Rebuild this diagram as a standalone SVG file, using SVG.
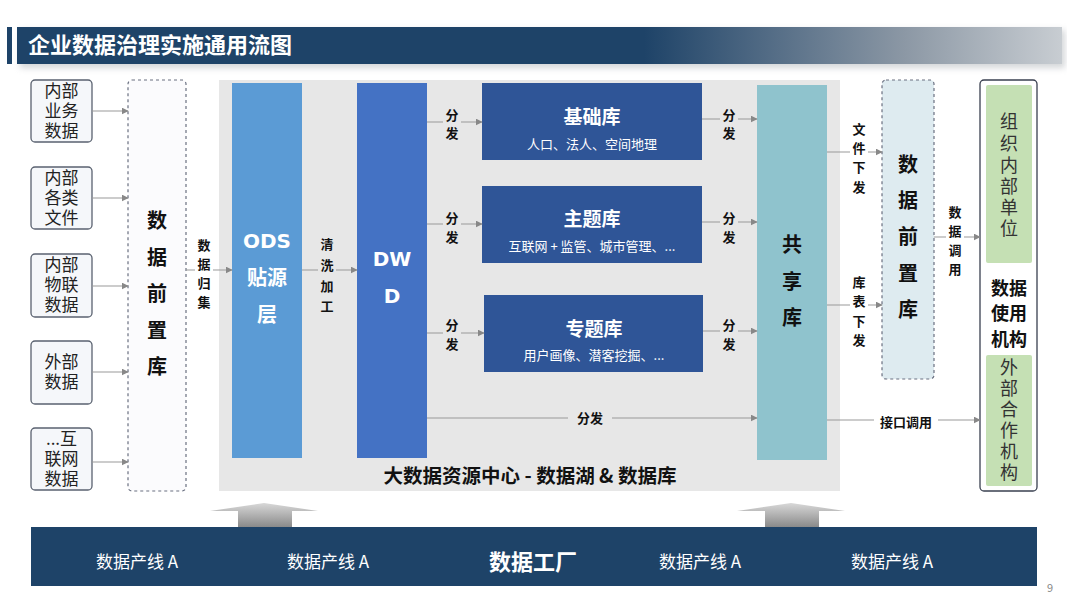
<svg xmlns="http://www.w3.org/2000/svg" width="1067" height="600" viewBox="0 0 1067 600">
<defs>
<style>
text{font-family:"Noto Sans CJK SC","Liberation Sans",sans-serif;}
.src{fill:#f5f7fa;stroke:#5a6270;stroke-width:1.3;}
.srct{font-size:17px;fill:#222;text-anchor:middle;}
.lbl{font-size:13px;font-weight:bold;fill:#111;text-anchor:middle;}
.big{font-weight:bold;text-anchor:middle;}
.wt{fill:#fff;}
.lat{font-family:"DejaVu Sans","Liberation Sans",sans-serif;}
.ln{stroke:#999;stroke-width:1;fill:none;}
.dash{stroke:#6a7080;stroke-width:1.2;stroke-dasharray:3,3;}
.lib{fill:#2f5597;}
.libt{font-size:19px;font-weight:bold;fill:#fff;text-anchor:middle;}
.libs{font-size:13px;fill:#fff;text-anchor:middle;}
.band{font-size:17px;fill:#fff;text-anchor:middle;}
.grn{fill:#c5e0b4;}
.gt{font-size:18px;fill:#333;text-anchor:middle;}
</style>
<marker id="ah" viewBox="0 0 10 10" refX="9" refY="5" markerWidth="7" markerHeight="7" orient="auto" markerUnits="userSpaceOnUse">
<path d="M0,0 L10,5 L0,10 z" fill="#888"/>
</marker>
<linearGradient id="tg" x1="0" y1="0" x2="1" y2="0">
<stop offset="0" stop-color="#1e4368"/>
<stop offset="0.6" stop-color="#1e4368"/>
<stop offset="0.85" stop-color="#8c98a5"/>
<stop offset="1" stop-color="#c8cdd2"/>
</linearGradient>
<linearGradient id="ag" x1="0" y1="0" x2="0" y2="1">
<stop offset="0" stop-color="#d8d8d8"/>
<stop offset="1" stop-color="#8a8a8a"/>
</linearGradient>
<filter id="sh" x="-5%" y="-50%" width="110%" height="200%">
<feGaussianBlur stdDeviation="3"/>
</filter>
</defs>
<rect width="1067" height="600" fill="#fff"/>

<g id="title">
<rect x="20" y="30" width="1045" height="38" fill="#b8bcc0" filter="url(#sh)" opacity="0.6"/>
<rect x="7" y="27" width="5" height="37" fill="#1e4368"/>
<rect x="17" y="27" width="1045" height="37" fill="url(#tg)"/>
<text x="28" y="53" font-size="22" font-weight="bold" fill="#fff">企业数据治理实施通用流图</text>
</g>

<g id="center-bg">
<rect x="219" y="80" width="621" height="411" fill="#e7e7e7"/>
</g>

<g id="src1"><rect class="src" x="31" y="80" width="61" height="62" rx="4"/>
<text class="srct"><tspan x="61.5" y="97">内部</tspan><tspan x="61.5" y="117">业务</tspan><tspan x="61.5" y="137">数据</tspan></text></g>
<g id="src2"><rect class="src" x="31" y="167" width="61" height="62" rx="4"/>
<text class="srct"><tspan x="61.5" y="184">内部</tspan><tspan x="61.5" y="204">各类</tspan><tspan x="61.5" y="224">文件</tspan></text></g>
<g id="src3"><rect class="src" x="31" y="254" width="61" height="63" rx="4"/>
<text class="srct"><tspan x="61.5" y="271">内部</tspan><tspan x="61.5" y="291">物联</tspan><tspan x="61.5" y="311">数据</tspan></text></g>
<g id="src4"><rect class="src" x="31" y="341" width="61" height="63" rx="4"/>
<text class="srct"><tspan x="61.5" y="368">外部</tspan><tspan x="61.5" y="388">数据</tspan></text></g>
<g id="src5"><rect class="src" x="31" y="428" width="61" height="62" rx="4"/>
<text class="srct"><tspan x="61.5" y="445">...互</tspan><tspan x="61.5" y="465">联网</tspan><tspan x="61.5" y="485">数据</tspan></text></g>

<g id="front-left">
<rect class="dash" x="128" y="80" width="58" height="411" rx="4" fill="#fbfbfd"/>
<text class="big" font-size="20" fill="#111"><tspan x="157" y="228">数</tspan><tspan x="157" y="265">据</tspan><tspan x="157" y="301">前</tspan><tspan x="157" y="338">置</tspan><tspan x="157" y="374">库</tspan></text>
</g>

<g id="ods">
<rect x="232" y="83" width="70" height="375" fill="#5b9bd5"/>
<text class="big wt lat" font-size="20" x="267" y="248">ODS</text>
<text class="big wt" font-size="20"><tspan x="267" y="285">贴源</tspan><tspan x="267" y="322">层</tspan></text>
</g>

<g id="dwd">
<rect x="357" y="83" width="70" height="375" fill="#4472c4"/>
<text class="big wt lat" font-size="20"><tspan x="392" y="266">DW</tspan><tspan x="392" y="303">D</tspan></text>
</g>

<g id="lib1"><rect class="lib" x="482" y="83" width="220" height="77"/>
<text class="libt" x="592" y="124">基础库</text><text class="libs" x="592" y="149">人口、法人、空间地理</text></g>
<g id="lib2"><rect class="lib" x="482" y="186" width="220" height="77"/>
<text class="libt" x="592" y="226">主题库</text><text class="libs" x="592" y="251">互联网 + 监管、城市管理、...</text></g>
<g id="lib3"><rect class="lib" x="484" y="295" width="219" height="77"/>
<text class="libt" x="594" y="336">专题库</text><text class="libs" x="594" y="360">用户画像、潜客挖掘、...</text></g>

<g id="share">
<rect x="757" y="85" width="70" height="375" fill="#8fc3cd"/>
<text class="big" font-size="20" fill="#111"><tspan x="792" y="252">共</tspan><tspan x="792" y="289">享</tspan><tspan x="792" y="325">库</tspan></text>
</g>

<g id="center-label">
<text class="big" font-size="19.5" fill="#111" x="530" y="483">大数据资源中心 - 数据湖 &amp; 数据库</text>
</g>

<g id="front-right">
<rect class="dash" x="882" y="80" width="52" height="299" rx="4" fill="#deebf0"/>
<text class="big" font-size="20" fill="#111"><tspan x="908" y="172">数</tspan><tspan x="908" y="208">据</tspan><tspan x="908" y="244">前</tspan><tspan x="908" y="281">置</tspan><tspan x="908" y="317">库</tspan></text>
</g>

<g id="users">
<rect x="980" y="80" width="57" height="411" rx="4" fill="#fff" stroke="#3a4050" stroke-width="1.3"/>
<rect class="grn" x="986" y="85" width="46" height="178" rx="2"/>
<text class="gt"><tspan x="1009" y="128">组</tspan><tspan x="1009" y="150">织</tspan><tspan x="1009" y="172">内</tspan><tspan x="1009" y="193">部</tspan><tspan x="1009" y="214">单</tspan><tspan x="1009" y="235">位</tspan></text>
<text class="big" font-size="18" fill="#111"><tspan x="1009" y="295">数据</tspan><tspan x="1009" y="320">使用</tspan><tspan x="1009" y="346">机构</tspan></text>
<rect class="grn" x="986" y="355" width="46" height="131" rx="2"/>
<text class="gt"><tspan x="1009" y="374">外</tspan><tspan x="1009" y="395">部</tspan><tspan x="1009" y="416">合</tspan><tspan x="1009" y="437">作</tspan><tspan x="1009" y="458">机</tspan><tspan x="1009" y="479">构</tspan></text>
</g>

<g id="factory">
<path d="M210,511 L264,503 L318,511 L292,511 L292,527 L238,527 L238,511 Z" fill="url(#ag)"/>
<path d="M737,511 L791,503 L845,511 L819,511 L819,527 L765,527 L765,511 Z" fill="url(#ag)"/>
<rect x="31" y="527" width="1006" height="59" fill="#1e4368"/>
<text class="band" x="137" y="568">数据产线 A</text>
<text class="band" x="328" y="568">数据产线 A</text>
<text class="big wt" font-size="22" x="533" y="570">数据工厂</text>
<text class="band" x="700" y="568">数据产线 A</text>
<text class="band" x="892" y="568">数据产线 A</text>
</g>

<g id="connectors">
<line class="ln" x1="92" y1="111" x2="128" y2="111" marker-end="url(#ah)"/>
<line class="ln" x1="92" y1="198" x2="128" y2="198" marker-end="url(#ah)"/>
<line class="ln" x1="92" y1="286" x2="128" y2="286" marker-end="url(#ah)"/>
<line class="ln" x1="92" y1="372" x2="128" y2="372" marker-end="url(#ah)"/>
<line class="ln" x1="92" y1="462" x2="128" y2="462" marker-end="url(#ah)"/>
<line class="ln" x1="186" y1="270" x2="232" y2="270" marker-end="url(#ah)"/>
<line class="ln" x1="302" y1="270" x2="357" y2="270" marker-end="url(#ah)"/>
<line class="ln" x1="427" y1="122" x2="482" y2="122" marker-end="url(#ah)"/>
<line class="ln" x1="427" y1="224" x2="482" y2="224" marker-end="url(#ah)"/>
<line class="ln" x1="427" y1="333" x2="484" y2="333" marker-end="url(#ah)"/>
<line class="ln" x1="702" y1="119" x2="757" y2="119" marker-end="url(#ah)"/>
<line class="ln" x1="702" y1="222" x2="757" y2="222" marker-end="url(#ah)"/>
<line class="ln" x1="703" y1="331" x2="757" y2="331" marker-end="url(#ah)"/>
<line class="ln" x1="427" y1="418" x2="757" y2="418" marker-end="url(#ah)"/>
<line class="ln" x1="827" y1="152" x2="882" y2="152" marker-end="url(#ah)"/>
<line class="ln" x1="827" y1="305" x2="882" y2="305" marker-end="url(#ah)"/>
<line class="ln" x1="934" y1="237" x2="980" y2="237" marker-end="url(#ah)"/>
<line class="ln" x1="827" y1="420" x2="980" y2="420" marker-end="url(#ah)"/>
<rect x="195" y="236" width="18" height="74" fill="#fff"/>
<text class="lbl"><tspan x="204" y="250">数</tspan><tspan x="204" y="269">据</tspan><tspan x="204" y="288">归</tspan><tspan x="204" y="307">集</tspan></text>
<rect x="318" y="235" width="18" height="78" fill="#e7e7e7"/>
<text class="lbl"><tspan x="327" y="249">清</tspan><tspan x="327" y="270">洗</tspan><tspan x="327" y="291">加</tspan><tspan x="327" y="311">工</tspan></text>
<rect x="443" y="106" width="18" height="36" fill="#e7e7e7"/>
<text class="lbl"><tspan x="452" y="120">分</tspan><tspan x="452" y="138">发</tspan></text>
<rect x="443" y="209" width="18" height="36" fill="#e7e7e7"/>
<text class="lbl"><tspan x="452" y="223">分</tspan><tspan x="452" y="242">发</tspan></text>
<rect x="443" y="316" width="18" height="36" fill="#e7e7e7"/>
<text class="lbl"><tspan x="452" y="330">分</tspan><tspan x="452" y="349">发</tspan></text>
<rect x="720" y="106" width="18" height="36" fill="#e7e7e7"/>
<text class="lbl"><tspan x="729" y="120">分</tspan><tspan x="729" y="138">发</tspan></text>
<rect x="720" y="209" width="18" height="36" fill="#e7e7e7"/>
<text class="lbl"><tspan x="729" y="223">分</tspan><tspan x="729" y="242">发</tspan></text>
<rect x="720" y="316" width="18" height="36" fill="#e7e7e7"/>
<text class="lbl"><tspan x="729" y="330">分</tspan><tspan x="729" y="349">发</tspan></text>
<rect x="568" y="410" width="44" height="16" fill="#e7e7e7"/>
<text class="lbl" x="590" y="423">分发</text>
<rect x="850" y="120" width="18" height="74" fill="#fff"/>
<text class="lbl"><tspan x="859" y="134">文</tspan><tspan x="859" y="153">件</tspan><tspan x="859" y="172">下</tspan><tspan x="859" y="192">发</tspan></text>
<rect x="850" y="273" width="18" height="74" fill="#fff"/>
<text class="lbl"><tspan x="859" y="287">库</tspan><tspan x="859" y="306">表</tspan><tspan x="859" y="326">下</tspan><tspan x="859" y="345">发</tspan></text>
<rect x="874" y="412" width="64" height="16" fill="#fff"/>
<text class="lbl" x="906" y="427">接口调用</text>
<rect x="946" y="203" width="18" height="74" fill="#fff"/>
<text class="lbl"><tspan x="955" y="217">数</tspan><tspan x="955" y="236">据</tspan><tspan x="955" y="255">调</tspan><tspan x="955" y="274">用</tspan></text>
</g>

<text x="1050" y="592" font-size="11" fill="#888" text-anchor="middle">9</text>
</svg>
